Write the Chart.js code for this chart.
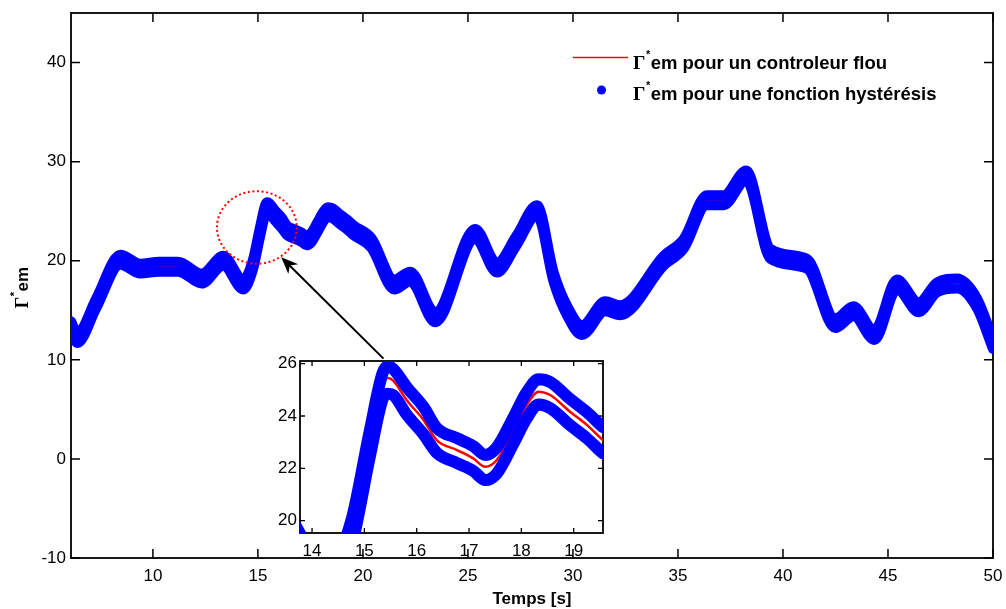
<!DOCTYPE html>
<html>
<head>
<meta charset="utf-8">
<script src="https://cdn.jsdelivr.net/npm/chart.js@4"></script>
<style>
html, body { margin: 0; padding: 0; background: #fff; }
#wrap { position: relative; width: 1006px; height: 609px; }
#main { position: absolute; left: 0; top: 0; }
#zoom { position: absolute; left: 255px; top: 350px; }
</style>
</head>
<body>
<div id="wrap">
  <canvas id="main" width="1006" height="609"></canvas>
  <canvas id="zoom" width="355" height="215"></canvas>
</div>
<script>
// valeurs (temps en s, couple en N.m)
const temps = [6.1, 6.4, 7.3, 8.45, 9.4, 10.3, 11.2, 12.33, 13.35, 14.3, 14.75, 15.1, 15.35, 15.45, 15.55, 15.81, 16.13, 16.38, 16.77, 17.08, 17.31, 17.53, 17.85, 18.1, 18.33, 18.55, 18.93, 19.25, 19.56, 20.4, 21.5, 22.25, 23.44, 25.35, 26.38, 27.3, 28.29, 29.08, 29.71, 30.43, 31.54, 32.25, 34.32, 35.27, 36.38, 37.17, 38.25, 39.4, 41.14, 42.49, 43.36, 44.35, 45.43, 46.46, 47.33, 48.29, 49.24, 50.0];
const gammaFlou = [13.4, 12.2, 15.7, 20.1, 19.2, 19.4, 19.4, 18.2, 20.0, 17.6, 19.5, 22.9, 25.2, 25.45, 25.35, 24.6, 23.85, 23.08, 22.7, 22.38, 22.06, 22.32, 23.46, 24.42, 24.93, 24.8, 24.16, 23.66, 23.08, 21.8, 17.6, 18.4, 14.3, 22.7, 19.3, 22.0, 25.1, 18.35, 15.0, 13.0, 15.4, 15.0, 20.0, 21.7, 26.1, 26.1, 28.6, 20.7, 19.7, 13.7, 14.9, 12.5, 17.6, 15.3, 17.3, 17.7, 15.7, 11.6];
// bande d'hysteresis : bord haut et bord bas
const hystHaut = [13.9, 12.7, 16.2, 20.6, 19.7, 19.9, 19.9, 18.7, 20.5, 18.1, 20.0, 23.4, 25.65, 25.9, 25.8, 25.1, 24.35, 23.55, 23.15, 22.85, 22.51, 22.8, 23.95, 24.9, 25.4, 25.3, 24.65, 24.15, 23.57, 22.3, 18.1, 18.9, 14.8, 23.2, 19.8, 22.5, 25.6, 18.85, 15.5, 13.5, 15.9, 15.5, 20.5, 22.2, 26.6, 26.6, 29.1, 21.2, 20.2, 14.2, 15.4, 13.0, 18.1, 15.8, 17.8, 18.2, 16.2, 12.1];
const hystBas = [12.9, 11.7, 15.2, 19.6, 18.7, 18.9, 18.9, 17.7, 19.5, 17.1, 19.0, 22.4, 24.65, 24.85, 24.8, 24.05, 23.3, 22.6, 22.2, 21.9, 21.55, 21.8, 22.95, 23.9, 24.44, 24.3, 23.65, 23.15, 22.57, 21.3, 17.1, 17.9, 13.8, 22.2, 18.8, 21.5, 24.6, 17.85, 14.5, 12.5, 14.9, 14.5, 19.5, 21.2, 25.6, 25.6, 28.1, 20.2, 19.2, 13.2, 14.4, 12.0, 17.1, 14.8, 16.8, 17.2, 15.2, 11.1];

const xTicks = [10, 15, 20, 25, 30, 35, 40, 45, 50];
const yTicks = [-10, 0, 10, 20, 30, 40];
const zoomXTicks = [14, 15, 16, 17, 18, 19];
const zoomYTicks = [20, 22, 24, 26];

const legendTexts = ['em pour un controleur flou', 'em pour une fonction hystérésis'];
const xTitle = 'Temps [s]';
const yTitle = 'em';

// zone entouree et fleche (coordonnees des donnees)
const zone = { x: 14.95, y: 23.36, rx: 1.9, ry: 3.66 };
const fleche = { de: { x: 20.98, y: 10.12 }, vers: { x: 16.11, y: 20.36 } };

const SANS = "'Liberation Sans', Arial, sans-serif";
const SERIF = "'Liberation Serif', 'Times New Roman', serif";

function pts(vals) {
    return temps.map((t, i) => ({ x: t, y: vals[i] }));
}

// Gamma + etoile en exposant + reste du texte, renvoie la largeur
function gammaText(ctx, x, y, rest, size, draw) {
    ctx.font = 'bold ' + (size + 1) + 'px ' + SERIF;
    let w1 = ctx.measureText('\u0393').width;
    ctx.font = 'bold ' + Math.round(size * 0.62) + 'px ' + SANS;
    let w2 = ctx.measureText('*').width;
    ctx.font = 'bold ' + size + 'px ' + SANS;
    let w3 = ctx.measureText(rest).width;
    if (draw) {
        ctx.fillStyle = '#000';
        ctx.textBaseline = 'alphabetic';
        ctx.textAlign = 'left';
        ctx.font = 'bold ' + (size + 1) + 'px ' + SERIF;
        ctx.fillText('\u0393', x, y);
        ctx.font = 'bold ' + Math.round(size * 0.62) + 'px ' + SANS;
        ctx.fillText('*', x + w1 + 0.5, y - size * 0.6);
        ctx.font = 'bold ' + size + 'px ' + SANS;
        ctx.fillText(rest, x + w1 + w2 + 1, y);
    }
    return w1 + w2 + 1 + w3;
}

const cadre = {
    id: 'cadre',
    beforeDraw(chart, args, opts) {
        if (!opts.fond) return;
        const { ctx, chartArea: a } = chart;
        ctx.save();
        ctx.fillStyle = '#fff';
        ctx.fillRect(a.left, a.top, a.right - a.left, a.bottom - a.top);
        ctx.restore();
    },
    beforeDatasetsDraw(chart, args, opts) {
        const { ctx, chartArea: a, scales } = chart;
        ctx.save();
        ctx.strokeStyle = '#000';
        ctx.lineWidth = opts.tickWidth;
        ctx.beginPath();
        for (let t of scales.x.ticks) {
            let p = scales.x.getPixelForValue(t.value);
            ctx.moveTo(p, a.bottom); ctx.lineTo(p, a.bottom - opts.len);
            ctx.moveTo(p, a.top); ctx.lineTo(p, a.top + opts.len);
        }
        for (let t of scales.y.ticks) {
            let p = scales.y.getPixelForValue(t.value);
            ctx.moveTo(a.left, p); ctx.lineTo(a.left + opts.len, p);
            ctx.moveTo(a.right, p); ctx.lineTo(a.right - opts.len, p);
        }
        ctx.stroke();
        ctx.lineWidth = opts.lw;
        ctx.strokeRect(a.left, a.top, a.right - a.left, a.bottom - a.top);
        ctx.restore();
    }
};

const annot = {
    id: 'annot',
    afterDraw(chart) {
        const { ctx, scales: { x, y }, chartArea: a } = chart;
        ctx.save();

        // cercle pointille rouge
        let cx = x.getPixelForValue(zone.x), cy = y.getPixelForValue(zone.y);
        let rx = x.getPixelForValue(zone.x + zone.rx) - cx;
        let ry = cy - y.getPixelForValue(zone.y + zone.ry);
        ctx.strokeStyle = '#ff0000';
        ctx.lineWidth = 2;
        ctx.setLineDash([2, 2.6]);
        ctx.beginPath();
        ctx.ellipse(cx, cy, rx, ry, 0, 0, 2 * Math.PI);
        ctx.stroke();
        ctx.setLineDash([]);

        // fleche
        let x0 = x.getPixelForValue(fleche.de.x), y0 = y.getPixelForValue(fleche.de.y);
        let x1 = x.getPixelForValue(fleche.vers.x), y1 = y.getPixelForValue(fleche.vers.y);
        let len = Math.hypot(x0 - x1, y0 - y1);
        let ux = (x0 - x1) / len, uy = (y0 - y1) / len;
        let nx = -uy, ny = ux;
        ctx.strokeStyle = '#000';
        ctx.fillStyle = '#000';
        ctx.lineWidth = 2;
        ctx.beginPath();
        ctx.moveTo(x0, y0);
        ctx.lineTo(x1 + ux * 10, y1 + uy * 10);
        ctx.stroke();
        ctx.beginPath();
        ctx.moveTo(x1, y1);
        ctx.lineTo(x1 + ux * 17 + nx * 7, y1 + uy * 17 + ny * 7);
        ctx.lineTo(x1 + ux * 12, y1 + uy * 12);
        ctx.lineTo(x1 + ux * 17 - nx * 7, y1 + uy * 17 - ny * 7);
        ctx.closePath();
        ctx.fill();

        // legende
        ctx.strokeStyle = '#ff0000';
        ctx.lineWidth = 1.5;
        ctx.beginPath();
        ctx.moveTo(573, 57.5);
        ctx.lineTo(628, 57.5);
        ctx.stroke();
        ctx.fillStyle = '#0000ff';
        ctx.beginPath();
        ctx.arc(601.5, 90, 4.5, 0, 2 * Math.PI);
        ctx.fill();
        gammaText(ctx, 633, 69, legendTexts[0], 18.5, true);
        gammaText(ctx, 633, 100, legendTexts[1], 18.5, true);

        // titres des axes
        ctx.fillStyle = '#000';
        ctx.font = 'bold 17px ' + SANS;
        ctx.textAlign = 'center';
        ctx.textBaseline = 'alphabetic';
        ctx.fillText(xTitle, (a.left + a.right) / 2, 604);

        ctx.translate(28, (a.top + a.bottom) / 2 + 2);
        ctx.rotate(-Math.PI / 2);
        let w = gammaText(ctx, 0, 0, yTitle, 17, false);
        gammaText(ctx, -w / 2, 0, yTitle, 17, true);
        ctx.restore();
    }
};

function lineSets(wBlue, wRed) {
    return [
        { label: 'hysteresis haut', data: pts(hystHaut), borderColor: '#0000ff', borderWidth: wBlue, order: 0 },
        { label: 'hysteresis bas', data: pts(hystBas), borderColor: '#0000ff', borderWidth: wBlue, order: 0 },
        { label: 'flou', data: pts(gammaFlou), borderColor: '#ff0000', borderWidth: wRed, order: 1 }
    ];
}

// taille fixe de l'axe, sans marge ajoutee pour les etiquettes du bout
function fixe(key, val) {
    return s => {
        s[key] = val;
        s.paddingLeft = 0; s.paddingRight = 0;
        s.paddingTop = 0; s.paddingBottom = 0;
    };
}

function axis(min, max, tickList, size, padding, fit) {
    return {
        type: 'linear',
        min: min,
        max: max,
        afterBuildTicks: s => { s.ticks = tickList.map(v => ({ value: v })); },
        afterFit: fit,
        grid: { display: false, drawTicks: false },
        border: { display: false },
        ticks: {
            color: '#000',
            font: { family: SANS, size: size },
            padding: padding,
            maxRotation: 0,
            autoSkip: false
        }
    };
}

const common = {
    responsive: false,
    animation: false,
    events: [],
    elements: {
        point: { radius: 0 },
        line: { cubicInterpolationMode: 'monotone', borderCapStyle: 'round', borderJoinStyle: 'round', fill: false }
    }
};

new Chart(document.getElementById('main'), {
    type: 'line',
    data: { datasets: lineSets(10, 2) },
    options: Object.assign({}, common, {
        layout: { padding: { top: 13, right: 13, left: 0, bottom: 0 } },
        plugins: {
            legend: { display: false },
            tooltip: { enabled: false },
            cadre: { len: 9, lw: 1.8, tickWidth: 1.5, fond: false }
        },
        scales: {
            x: axis(6.1, 50, xTicks, 17, 8, fixe('height', 51)),
            y: axis(-10, 45, yTicks, 17, 5, fixe('width', 71))
        }
    }),
    plugins: [cadre, annot]
});

new Chart(document.getElementById('zoom'), {
    type: 'line',
    data: { datasets: lineSets(12, 2.5) },
    options: Object.assign({}, common, {
        layout: { padding: { top: 11, right: 7, left: 0, bottom: 0 } },
        plugins: {
            legend: { display: false },
            tooltip: { enabled: false },
            cadre: { len: 5, lw: 1.8, tickWidth: 1.3, fond: true }
        },
        scales: {
            x: axis(13.77, 19.56, zoomXTicks, 17, 8, fixe('height', 32)),
            y: axis(19.53, 26.1, zoomYTicks, 17, 3, fixe('width', 45))
        }
    }),
    plugins: [cadre]
});
</script>
</body>
</html>
